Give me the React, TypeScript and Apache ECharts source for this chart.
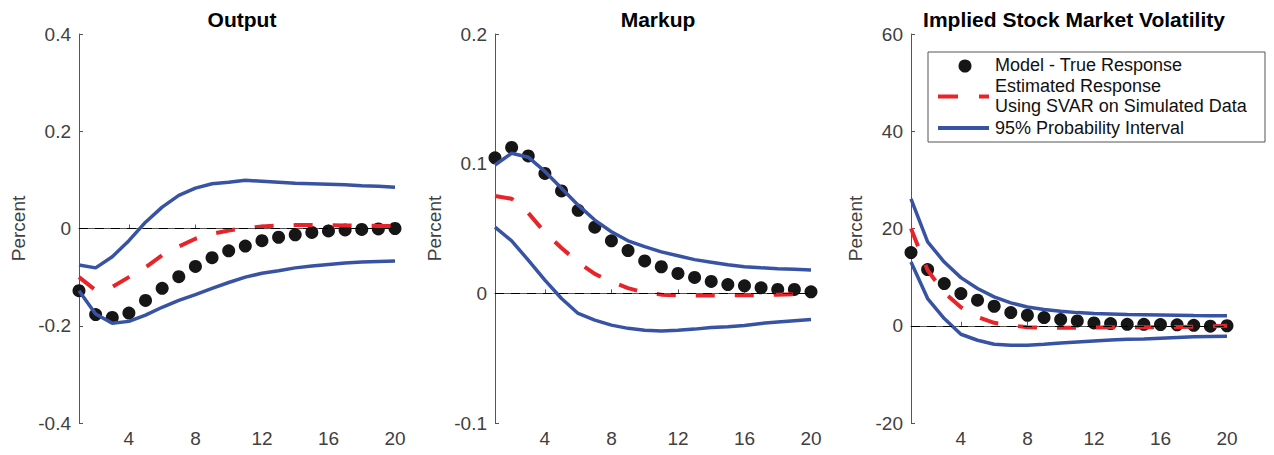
import React, { useEffect, useRef } from "react";
import * as echarts from "echarts";

const horizons = [1, 2, 3, 4, 5, 6, 7, 8, 9, 10, 11, 12, 13, 14, 15, 16, 17, 18, 19, 20];
const xTicks = [4, 8, 12, 16, 20];

const panelTitles = ["Output", "Markup", "Implied Stock Market Volatility"];
const yMins = [-0.4, -0.1, -20];
const yMaxs = [0.4, 0.2, 60];
const yIntervals = [0.2, 0.1, 20];

const outputModel = [-0.128, -0.177, -0.183, -0.174, -0.148, -0.123, -0.099, -0.078, -0.06, -0.046, -0.036, -0.025, -0.018, -0.013, -0.008, -0.005, -0.003, -0.002, -0.001, 0.0];
const outputEst = [-0.1, -0.127, -0.12, -0.1, -0.08, -0.055, -0.037, -0.021, -0.011, -0.004, 0.001, 0.004, 0.006, 0.007, 0.007, 0.007, 0.006, 0.006, 0.005, 0.005];
const outputUpper = [-0.075, -0.081, -0.058, -0.025, 0.013, 0.044, 0.068, 0.083, 0.092, 0.095, 0.099, 0.097, 0.095, 0.093, 0.092, 0.091, 0.09, 0.088, 0.087, 0.085];
const outputLower = [-0.128, -0.176, -0.195, -0.191, -0.178, -0.162, -0.148, -0.136, -0.123, -0.111, -0.1, -0.092, -0.087, -0.081, -0.077, -0.074, -0.071, -0.069, -0.068, -0.067];

const markupModel = [0.1045, 0.1125, 0.106, 0.0925, 0.079, 0.064, 0.051, 0.0405, 0.033, 0.025, 0.0205, 0.0153, 0.0123, 0.0092, 0.0068, 0.0058, 0.0043, 0.003, 0.003, 0.0012];
const markupEst = [0.075, 0.073, 0.062, 0.047, 0.035, 0.024, 0.015, 0.009, 0.004, 0.0005, -0.001, -0.0015, -0.0017, -0.0017, -0.0016, -0.0015, -0.0013, -0.001, -0.0007, -0.0003];
const markupUpper = [0.099, 0.108, 0.105, 0.094, 0.081, 0.068, 0.0565, 0.0475, 0.0405, 0.036, 0.032, 0.029, 0.026, 0.024, 0.022, 0.0205, 0.0197, 0.019, 0.0185, 0.018];
const markupLower = [0.051, 0.0405, 0.0256, 0.0102, -0.004, -0.0155, -0.0207, -0.0245, -0.027, -0.0284, -0.029, -0.0284, -0.0276, -0.0263, -0.0258, -0.0248, -0.0232, -0.0222, -0.0212, -0.0202];

const volModel = [15.06, 11.56, 8.68, 6.62, 5.25, 4.01, 2.7, 2.16, 1.68, 1.27, 0.99, 0.58, 0.45, 0.3, 0.3, 0.25, 0.2, 0.1, -0.1, 0.0];
const volEst = [20, 11.4, 6.8, 3.8, 1.8, 0.6, 0.1, -0.3, -0.4, -0.4, -0.4, -0.35, -0.3, -0.3, -0.3, -0.3, -0.25, -0.2, -0.1, 0];
const volUpper = [26.1, 17.25, 13.1, 9.9, 7.65, 5.93, 4.7, 3.87, 3.33, 2.98, 2.7, 2.5, 2.4, 2.3, 2.25, 2.2, 2.15, 2.1, 2.07, 2.05];
const volLower = [13.1, 5.6, 1.48, -1.75, -2.98, -3.8, -4.0, -4.0, -3.8, -3.55, -3.35, -3.15, -2.95, -2.8, -2.7, -2.55, -2.4, -2.25, -2.2, -2.15];

const legendLabels = ["Model - True Response", "Estimated Response\nUsing SVAR on Simulated Data", "95% Probability Interval"];

const modelSets = [outputModel, markupModel, volModel];
const estSets = [outputEst, markupEst, volEst];
const upperSets = [outputUpper, markupUpper, volUpper];
const lowerSets = [outputLower, markupLower, volLower];

const FONT = "'Liberation Sans', Arial, Helvetica, sans-serif";
const BLUE = "#3953a4";
const RED = "#e8242a";
const DOT = "#161616";
const AXIS = "#555555";
const LABEL = "#404040";

const gridLefts = [79, 495, 911];
const gridWidth = 316;
const nameGaps = [51, 51, 46];

export default function App() {
  const ref = useRef<HTMLDivElement>(null);
  useEffect(() => {
    if (!ref.current) return;
    const chart = echarts.init(ref.current, undefined, { renderer: "svg" });
    const pair = (ys: number[]) => horizons.map((h, i) => [h, ys[i]]);
    const grids = gridLefts.map((l) => ({ left: l, top: 34, width: gridWidth, height: 389 }));
    const xAxes = gridLefts.map((_, i) => ({
      type: "value",
      gridIndex: i,
      min: 1,
      max: 20,
      splitLine: { show: false },
      axisLine: { show: true, lineStyle: { color: AXIS, width: 1 } },
      axisTick: { show: true, inside: true, length: 4, customValues: xTicks, lineStyle: { color: AXIS } },
      axisLabel: { customValues: xTicks, color: LABEL, fontSize: 19, fontFamily: FONT, margin: 6 },
    }));
    const yAxes = gridLefts.map((_, i) => ({
      type: "value",
      gridIndex: i,
      min: yMins[i],
      max: yMaxs[i],
      interval: yIntervals[i],
      name: "Percent",
      nameLocation: "middle",
      nameGap: nameGaps[i],
      nameTextStyle: { color: LABEL, fontSize: 19, fontFamily: FONT },
      splitLine: { show: false },
      axisLine: { show: true, lineStyle: { color: AXIS, width: 1 } },
      axisTick: { show: true, inside: true, length: 4, lineStyle: { color: AXIS } },
      axisLabel: { color: LABEL, fontSize: 19, fontFamily: FONT, margin: 8 },
    }));
    const series: any[] = [];
    gridLefts.forEach((_, i) => {
      series.push({
        type: "scatter",
        xAxisIndex: i,
        yAxisIndex: i,
        data: pair(modelSets[i]),
        symbolSize: 13,
        itemStyle: { color: DOT, opacity: 1 },
        z: 2,
        markLine: {
          silent: true,
          symbol: "none",
          label: { show: false },
          lineStyle: { color: "#000", width: 1, type: [9, 7] },
          data: [{ yAxis: 0 }],
        },
      });
      series.push({
        type: "line",
        xAxisIndex: i,
        yAxisIndex: i,
        data: pair(estSets[i]),
        showSymbol: false,
        symbol: "none",
        lineStyle: { color: RED, width: 4, type: [19, 20], cap: "butt" },
        z: 3,
      });
      series.push({
        type: "line",
        xAxisIndex: i,
        yAxisIndex: i,
        data: pair(upperSets[i]),
        symbol: "none",
        lineStyle: { color: BLUE, width: 3.5 },
        z: 4,
      });
      series.push({
        type: "line",
        xAxisIndex: i,
        yAxisIndex: i,
        data: pair(lowerSets[i]),
        symbol: "none",
        lineStyle: { color: BLUE, width: 3.5 },
        z: 4,
      });
    });
    const titles = panelTitles.map((t, i) => ({
      text: t,
      left: gridLefts[i] + gridWidth / 2,
      textAlign: "center",
      top: 4,
      textStyle: { fontSize: 21, fontWeight: "bold", color: "#000", fontFamily: FONT },
    }));
    const lx = 928;
    const ly = 52;
    const graphic = [
      {
        type: "rect",
        shape: { x: lx, y: ly, width: 337, height: 90 },
        style: { fill: "#fff", stroke: "#555", lineWidth: 1 },
        z: 100,
      },
      { type: "circle", shape: { cx: 965, cy: 66, r: 6.5 }, style: { fill: DOT }, z: 101 },
      {
        type: "line",
        shape: { x1: 938, y1: 96.5, x2: 989, y2: 96.5 },
        style: { stroke: RED, lineWidth: 4, lineDash: [20, 21] },
        z: 101,
      },
      {
        type: "line",
        shape: { x1: 938, y1: 128, x2: 989, y2: 128 },
        style: { stroke: BLUE, lineWidth: 4 },
        z: 101,
      },
      {
        type: "text",
        x: 995,
        y: 65,
        style: { text: legendLabels[0], fill: "#111", font: `18px ${FONT}`, textVerticalAlign: "middle" },
        z: 101,
      },
      {
        type: "text",
        x: 995,
        y: 96,
        style: { text: legendLabels[1], fill: "#111", font: `18px ${FONT}`, textVerticalAlign: "middle", lineHeight: 19.5 },
        z: 101,
      },
      {
        type: "text",
        x: 995,
        y: 128,
        style: { text: legendLabels[2], fill: "#111", font: `18px ${FONT}`, textVerticalAlign: "middle" },
        z: 101,
      },
    ];
    chart.setOption({
      animation: false,
      backgroundColor: "#fff",
      title: titles,
      grid: grids,
      xAxis: xAxes,
      yAxis: yAxes,
      series,
      graphic,
    });
    return () => chart.dispose();
  }, []);
  return (
    <div
      ref={ref}
      style={{ position: "absolute", left: 0, top: 0, width: 1274, height: 455, background: "#fff" }}
    />
  );
}
